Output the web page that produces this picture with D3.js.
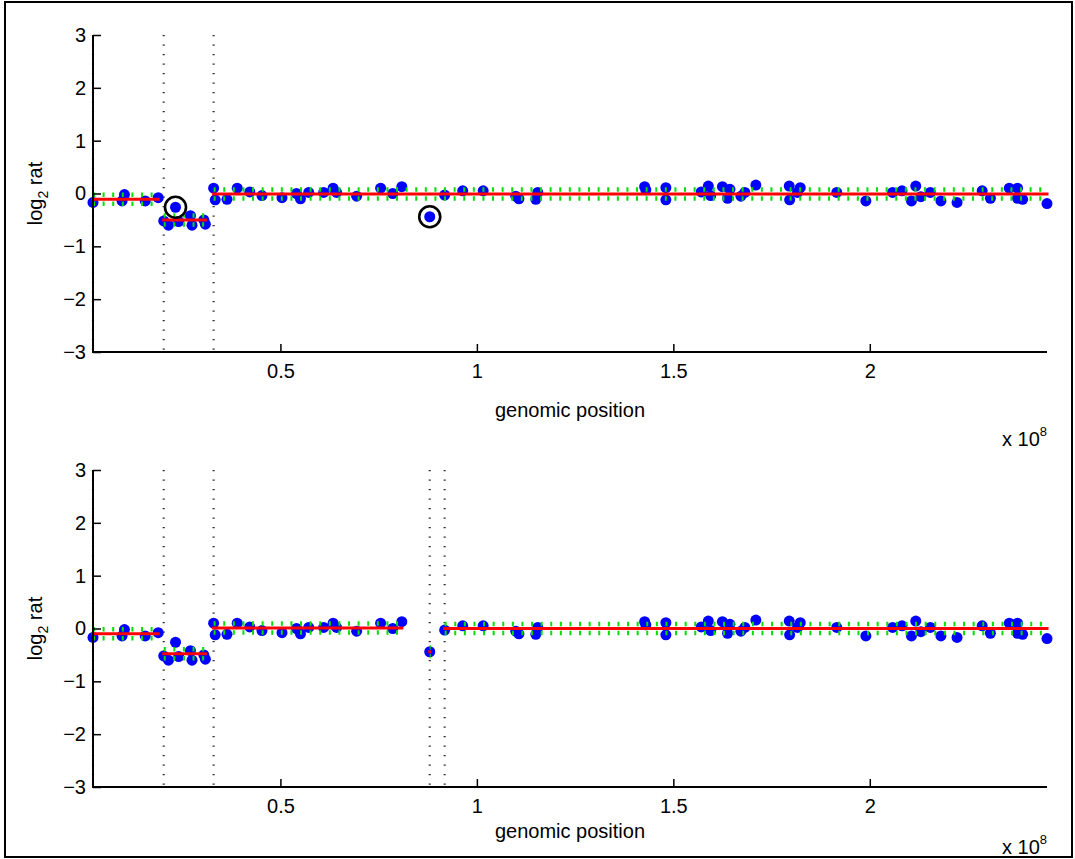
<!DOCTYPE html>
<html>
<head>
<meta charset="utf-8">
<script src="https://cdn.jsdelivr.net/npm/d3@7"></script>
<style>
  body { margin: 0; background: #fff; }
  svg text { font-family: "Liberation Sans", Arial, sans-serif; fill: #000; }
</style>
</head>
<body>
<svg id="chart" width="1075" height="859"></svg>
<script>
// probe positions (Mb) and log2 ratios
const positions = [2.3, 9.7, 10.3, 15.6, 18.9,
  20.3, 21.5, 23.3, 24.1, 27.1, 27.5, 30.5, 30.9,
  33.0, 33.4, 36.4, 39.0, 42.2, 45.3, 50.4, 54.1, 55.1, 57.2, 61.0, 63.4, 64.3, 69.4, 75.5, 78.6, 80.9,
  88.0,
  91.8, 96.4, 101.6, 109.9, 110.7, 115.0, 115.5, 142.7, 143.0, 148.1, 148.1, 157.1, 158.9, 159.5,
  162.5, 163.8, 164.4, 167.2, 168.2, 171.0, 179.5, 179.6, 181.6, 182.3, 191.6, 199.0, 205.8, 208.2,
  210.6, 211.7, 213.0, 215.4, 218.1, 222.2, 228.6, 230.7, 235.5, 237.6, 237.6, 238.9, 245.1];
const ratios = [-0.17, -0.14, -0.02, -0.14, -0.08,
  -0.52, -0.60, -0.26, -0.53, -0.42, -0.60, -0.50, -0.58,
  0.10, -0.12, -0.11, 0.10, 0.03, -0.04, -0.08, 0.00, -0.10, 0.02, 0.02, 0.10, 0.02, -0.05, 0.10, 0.00, 0.13,
  -0.44,
  -0.03, 0.05, 0.05, -0.05, -0.10, -0.11, 0.02, 0.13, 0.07, 0.11, -0.12, 0.03, 0.14, -0.04,
  0.13, -0.09, 0.08, -0.05, 0.02, 0.16, 0.14, -0.12, 0.02, 0.11, 0.02, -0.14, 0.02, 0.05,
  -0.14, 0.14, -0.06, 0.02, -0.14, -0.17, 0.05, -0.09, 0.10, 0.10, -0.09, -0.11, -0.19];

// segmentations: start / end (Mb) and segment mean
const topSegStart = [2.3, 20.3, 33.0];
const topSegEnd = [18.9, 30.9, 245.1];
const topSegMean = [-0.11, -0.50, -0.01];
const topCircled = [23.3, 88.0];

const botSegStart = [2.3, 20.3, 33.0, 88.0, 91.8];
const botSegEnd = [18.9, 30.9, 80.9, 88.0, 245.1];
const botSegMean = [-0.10, -0.48, 0.01, -0.44, 0.00];
const botCircled = [];

const yTicks = [-3, -2, -1, 0, 1, 2, 3];
const xTicks = [0.5e8, 1e8, 1.5e8, 2e8];
const band = 0.085;

const data = positions.map((p, i) => ({pos: p * 1e6, val: ratios[i]}));

const svg = d3.select("#chart");
const W = 1075, H = 859;
const fs = 20;

svg.append("rect")
  .attr("x", 5).attr("y", 2)
  .attr("width", W - 8).attr("height", H - 4)
  .attr("fill", "none").attr("stroke", "#000").attr("stroke-width", 2);

const left = 93, right = 1047, plotH = 317;

const x = d3.scaleLinear()
  .domain(d3.extent(data, d => d.pos))
  .range([left, right]);

function drawPanel(top, segStart, segEnd, segMean, circled, labelY, expY) {
  const y = d3.scaleLinear().domain([-3, 3]).range([top + plotH, top]);
  const g = svg.append("g");
  const segs = segStart.map((s, i) => ({s: s * 1e6, e: segEnd[i] * 1e6, m: segMean[i]}));

  // breakpoint markers
  g.selectAll(".bp").data(segs).join("line")
    .attr("x1", d => x(d.s)).attr("x2", d => x(d.s))
    .attr("y1", y(3)).attr("y2", y(-3))
    .attr("stroke", "#333").attr("stroke-width", 2.2)
    .attr("stroke-dasharray", "1.3,8.2");

  g.selectAll(".pt").data(data).join("circle")
    .attr("cx", d => x(d.pos)).attr("cy", d => y(d.val))
    .attr("r", 5.5).attr("fill", "#0000ff");

  // +/- band around each segment mean
  [band, -band].forEach(off => {
    g.selectAll(null).data(segs).join("line")
      .attr("x1", d => x(d.s)).attr("x2", d => x(d.e) + 1)
      .attr("y1", d => y(d.m + off)).attr("y2", d => y(d.m + off))
      .attr("stroke", "#00e000").attr("stroke-width", 4.5)
      .attr("stroke-dasharray", "2,7.6");
  });

  g.selectAll(".seg").data(segs).join("line")
    .attr("x1", d => x(d.s)).attr("x2", d => x(d.e))
    .attr("y1", d => y(d.m)).attr("y2", d => y(d.m))
    .attr("stroke", "#ff0000").attr("stroke-width", 3)
    .attr("stroke-linecap", "square");

  g.selectAll(".ring").data(data.filter(d => circled.includes(d.pos / 1e6))).join("circle")
    .attr("cx", d => x(d.pos)).attr("cy", d => y(d.val))
    .attr("r", 10.5).attr("fill", "none")
    .attr("stroke", "#000").attr("stroke-width", 2.6);

  // axes (ticks pointing inward, box off)
  const yAxis = g.append("g")
    .attr("transform", `translate(${left},0)`)
    .call(d3.axisLeft(y).tickValues(yTicks).tickSizeInner(-8).tickSizeOuter(0).tickPadding(7)
      .tickFormat(d3.format("d")));
  const xAxis = g.append("g")
    .attr("transform", `translate(0,${top + plotH})`)
    .call(d3.axisBottom(x).tickValues(xTicks).tickSizeInner(-8).tickSizeOuter(0).tickPadding(12)
      .tickFormat(d => d3.format("")(d / 1e8)));
  [yAxis, xAxis].forEach(a => {
    a.select(".domain").attr("stroke-width", 2);
    a.selectAll(".tick line").attr("stroke-width", 1.5);
    a.selectAll("text").attr("font-size", fs).attr("font-family", "Liberation Sans, Arial, sans-serif");
  });
  yAxis.select(".domain").attr("d", `M0,${y(3)}V${y(-3)}`);
  xAxis.select(".domain").attr("d", `M${left - 1},0H${right}`);

  const yl = g.append("text")
    .attr("transform", `translate(42,${y(0)}) rotate(-90)`)
    .attr("text-anchor", "middle").attr("font-size", fs);
  yl.append("tspan").text("log");
  yl.append("tspan").attr("font-size", 14).attr("dy", 6).text("2");
  yl.append("tspan").attr("dy", -6).text(" rat");

  g.append("text")
    .attr("x", (left + right) / 2).attr("y", labelY)
    .attr("text-anchor", "middle").attr("font-size", fs)
    .text("genomic position");

  const ex = g.append("text")
    .attr("x", right).attr("y", expY)
    .attr("text-anchor", "end").attr("font-size", fs);
  ex.append("tspan").text("x 10");
  ex.append("tspan").attr("font-size", 13).attr("dy", -10).text("8");
}

drawPanel(35, topSegStart, topSegEnd, topSegMean, topCircled, 417, 446);
drawPanel(470, botSegStart, botSegEnd, botSegMean, botCircled, 838, 854);
</script>
</body>
</html>
